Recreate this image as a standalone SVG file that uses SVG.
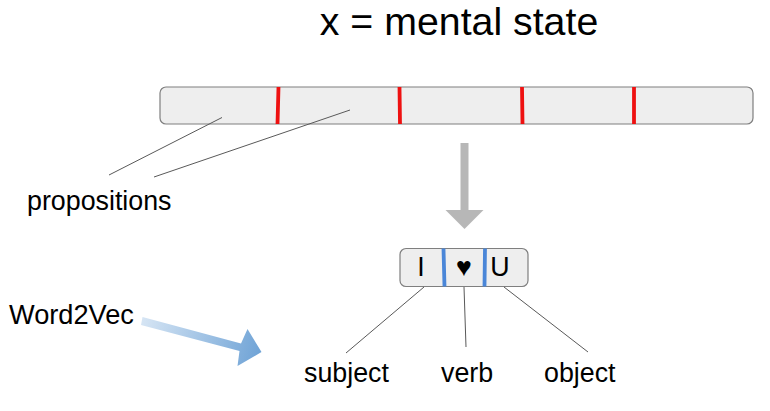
<svg xmlns="http://www.w3.org/2000/svg" width="770" height="411" viewBox="0 0 770 411">
<style>
text{font-family:"Liberation Sans",Arial,sans-serif;fill:#000}
.l{font-size:26.800px}
.box{fill:#eeeeee;stroke:#7f7f7f;stroke-width:1.2}
.red{stroke:#ee1111;stroke-width:3.800;fill:none}
.blue{stroke:#4a86d8;stroke-width:3.800;fill:none}
.thin{stroke:#595959;stroke-width:1;fill:none}
</style>
<defs>
<linearGradient id="g" gradientUnits="userSpaceOnUse" x1="142" y1="320" x2="262" y2="352">
<stop offset="0" stop-color="#d6e5f4"/><stop offset="1" stop-color="#6fa3d6"/>
</linearGradient>
</defs>
<rect width="770" height="411" fill="#fff"/>
<g id="title"><text x="459" y="35" font-size="39.300" text-anchor="middle">x = mental state</text></g>
<g id="state-bar">
<rect class="box" x="160" y="87" width="593" height="37" rx="6"/>
<path class="red" d="M278.500 87L277.500 124M399.500 87L400 124M522 87L522.500 124M634 87V124"/>
</g>
<g id="word-box">
<rect class="box" x="400" y="248.500" width="128" height="38" rx="6"/>
<path class="blue" d="M443.500 248.500L444.500 286.500M485 248.500L484.500 286.500"/>
<text x="421" y="276" class="l" text-anchor="middle">I</text>
<text x="464" y="276" class="l" text-anchor="middle">♥</text>
<text x="500" y="276" class="l" text-anchor="middle">U</text>
</g>
<g id="connectors">
<path class="thin" d="M222 117.500L109 175M350 110L154 177M424 287L346 353M464 287L466 347M504 287L588 352"/>
<path id="down-arrow" fill="#b7b7b7" d="M460.500 143H468.500V210H483.500L464.500 229L445.500 210H460.500Z"/>
<path id="w2v-arrow" fill="url(#g)" d="M142.500 317L241 343.500L247.500 329L261.500 352L237.500 366L239.500 351L141 325Z"/>
</g>
<g id="propositions"><text x="27" y="210" class="l">propositions</text></g>
<g id="word2vec"><text x="9" y="324" font-size="27.200">Word2Vec</text></g>
<g id="subject"><text x="304" y="382" class="l">subject</text></g>
<g id="verb"><text x="441" y="382" class="l">verb</text></g>
<g id="object"><text x="544" y="382" class="l">object</text></g>
</svg>
